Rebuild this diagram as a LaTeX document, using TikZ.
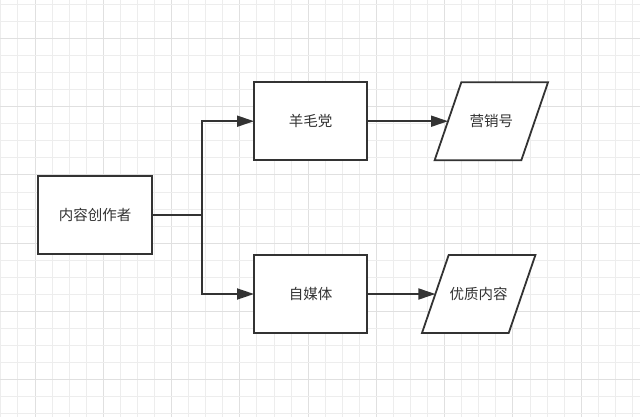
\documentclass[tikz,border=0pt]{standalone}
\usepackage{fontspec}
\newfontfamily\cjk{Noto Sans CJK SC}
\usetikzlibrary{arrows.meta,calc}
\definecolor{ink}{HTML}{333333}
\definecolor{gridminor}{HTML}{EDEDED}
\definecolor{gridmajor}{HTML}{E0E0E0}
\tikzset{
  box/.style={draw=ink, line width=1.8pt, fill=white, minimum width=113pt, minimum height=78pt, inner sep=0pt, outer sep=0pt, font=\cjk\fontsize{14.5}{16}\selectfont, text=ink},
  datanode/.style={minimum width=86.7pt, minimum height=78pt, inner sep=0pt, outer sep=0pt, font=\cjk\fontsize{14.5}{16}\selectfont, text=ink},
  shapeline/.style={draw=ink, line width=1.8pt, fill=white, line join=miter},
  conn/.style={draw=ink, line width=1.8pt, -{Triangle[length=17pt,width=11pt]}},
  plain/.style={draw=ink, line width=1.8pt}
}
\begin{document}
\begin{tikzpicture}[x=1pt,y=-1pt]
\useasboundingbox (0,0) rectangle (640,417);
\fill[white] (0,0) rectangle (640,417);
% grid
\foreach \k in {0,...,37}{
  \pgfmathsetmacro{\gx}{0.86+17.07*\k}
  \pgfmathtruncatemacro{\m}{mod(\k,4)}
  \ifnum\m=2
    \draw[gridmajor, line width=1pt] (\gx,0) -- (\gx,417);
  \else
    \draw[gridminor, line width=0.9pt] (\gx,0) -- (\gx,417);
  \fi
}
\foreach \k in {0,...,24}{
  \pgfmathsetmacro{\gy}{4.2+17.07*\k}
  \pgfmathtruncatemacro{\m}{mod(\k,4)}
  \ifnum\m=2
    \draw[gridmajor, line width=1pt] (0,\gy) -- (640,\gy);
  \else
    \draw[gridminor, line width=0.9pt] (0,\gy) -- (640,\gy);
  \fi
}
% nodes
\node[box, minimum width=114pt] (creator) at (95,215) {内容创作者};
\node[box] (ymd) at (310.5,121.2) {羊毛党};
\node[box] (zmt) at (310.5,294) {自媒体};
\node[datanode] (yxh) at (491.35,121.2) {};
\node[datanode] (yznr) at (478.7,294) {};
% parallelograms
\draw[shapeline] ($(yxh.north west)+(13.35,0)$) -- ($(yxh.north east)+(13.35,0)$) -- ($(yxh.south east)+(-13.35,0)$) -- ($(yxh.south west)+(-13.35,0)$) -- cycle;
\draw[shapeline] ($(yznr.north west)+(13.35,0)$) -- ($(yznr.north east)+(13.35,0)$) -- ($(yznr.south east)+(-13.35,0)$) -- ($(yznr.south west)+(-13.35,0)$) -- cycle;
\node[datanode] at (yxh.center) {营销号};
\node[datanode] at (yznr.center) {优质内容};
% connectors
\coordinate (split) at (202.3,215);
\draw[plain] (creator.east) -- (split);
\draw[conn] (split) |- (ymd.west);
\draw[conn] (split) |- (zmt.west);
\draw[conn] (ymd.east) -- (yxh.west);
\draw[conn] (zmt.east) -- (yznr.west);
\end{tikzpicture}
\end{document}
